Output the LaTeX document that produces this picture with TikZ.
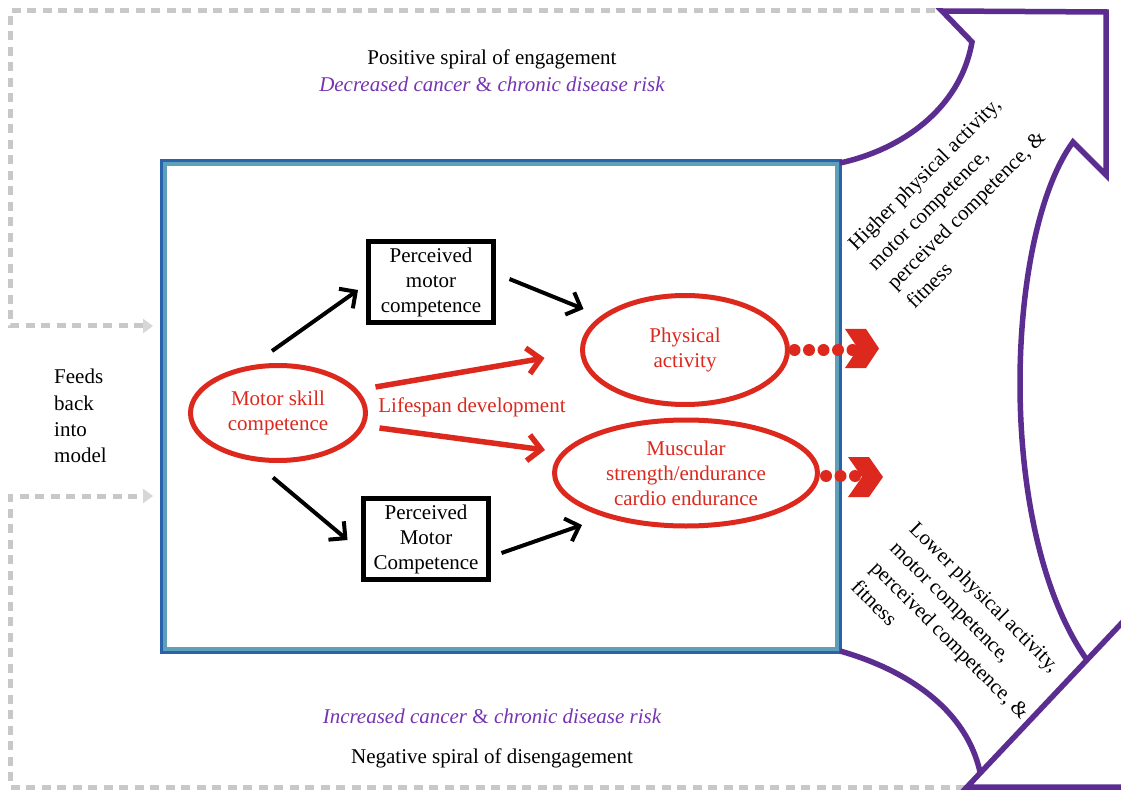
\documentclass[tikz,border=0pt]{standalone}
\usepackage{fontspec}
\setmainfont{Liberation Serif}
\usetikzlibrary{arrows.meta,shapes.geometric,calc}
\definecolor{myred}{RGB}{221,40,30}
\definecolor{mypurple}{RGB}{92,45,145}
\definecolor{txtpurple}{RGB}{118,52,178}
\definecolor{dgrey}{RGB}{200,200,200}
\definecolor{dgreytip}{RGB}{215,215,215}
\definecolor{frameblue}{RGB}{42,98,172}
\definecolor{frameteal}{RGB}{95,160,185}
\begin{document}
\begin{tikzpicture}[x=1pt,y=-1pt,
  every node/.style={font=\fontsize{21}{25}\selectfont, inner sep=0pt},
  redell/.style={ellipse, draw=myred, line width=5pt, text=myred, align=center},
  blkbox/.style={rectangle, draw=black, line width=5pt, align=center, minimum width=125pt, minimum height=81pt},
  blkarrow/.style={draw=black, line width=4pt, -{Straight Barb[length=12pt,width=24pt]}},
  redarrow/.style={draw=myred, line width=5.5pt, -{Straight Barb[length=13pt,width=26pt]}},
  greydash/.style={draw=dgrey, line width=5pt, dash pattern=on 9pt off 6.5pt, -{Triangle[length=10pt,width=14pt,color=dgreytip]}},
  purpline/.style={draw=mypurple, line width=5.5pt, line join=miter},
  reddots/.style={draw=myred, line width=12pt, line cap=round, dash pattern=on 0pt off 14.5pt},
  chev/.style={fill=myred},
  slanttext/.style={align=left, font=\fontsize{21}{27.5}\selectfont},
  ]
\useasboundingbox (0,0) rectangle (1121,791);
\clip (0,0) rectangle (1121,791);
\fill[white] (0,0) rectangle (1121,791);

% feedback dashed lines
\coordinate (gtop) at (935,11);
\coordinate (gtl) at (10,11);
\coordinate (gml) at (10,326);
\coordinate (garr1) at (153,326);
\coordinate (gbot) at (965,787);
\coordinate (gbl) at (10,787);
\coordinate (gml2) at (10,496);
\coordinate (garr2) at (153,496);
\draw[greydash] (gtop) -- (gtl) -- (gml) -- (garr1);
\draw[greydash] (gbot) -- (gbl) -- (gml2) -- (garr2);

% frame
\draw[frameteal, line width=4pt] (164.5,164.5) rectangle (836.5,648.5);
\draw[frameblue, line width=3pt] (161,161) rectangle (840,652);

% purple spiral arrow
\draw[purpline] (840,163) .. controls (900,150) and (960,110) .. (972,42)
  -- (942,11) -- (1106,12) -- (1106,175) -- (1073,142)
  .. controls (1005,235) and (995,530) .. (1087,660);
\draw[purpline] (1135,609) -- (967,787) -- (1135,787);
\draw[purpline] (840,651) .. controls (900,668) and (965,705) .. (980,772);

% top and bottom texts
\node[anchor=base] (pos) at (492,65) {Positive spiral of engagement};
\node[anchor=base, text=txtpurple, font=\fontsize{21}{25}\selectfont\itshape] (dec) at (492,92) {Decreased cancer \textup{\&} chronic disease risk};
\node[anchor=base, text=txtpurple, font=\fontsize{21}{25}\selectfont\itshape] (inc) at (492,723) {Increased cancer \textup{\&} chronic disease risk};
\node[anchor=base] (neg) at (492,763) {Negative spiral of disengagement};

\node[align=left, anchor=north west, font=\fontsize{21}{26.3}\selectfont] (fb) at (54,369) {Feeds\\back\\into\\model};

% slanted texts
\node[slanttext, rotate=45] (hi) at (956,200) {Higher physical activity,\\motor competence,\\perceived competence, \&\\fitness};
\node[slanttext, rotate=-45] (lo) at (960,630) {Lower physical activity,\\motor competence,\\perceived competence, \&\\fitness};

% nodes
\node[redell, minimum width=175pt, minimum height=95pt] (msc) at (278,413) {Motor skill\\competence};
\node[redell, minimum width=205pt, minimum height=109pt] (pa) at (685,350) {Physical\\activity};
\node[redell, minimum width=263pt, minimum height=106pt] (mus) at (686,473) {Muscular\\strength/endurance\\cardio endurance};
\node[blkbox] (pmc1) at (431,282) {Perceived\\motor\\competence};
\node[blkbox] (pmc2) at (426,539) {Perceived\\Motor\\Competence};
\node[text=myred] (life) at (472,407) {Lifespan development};

% arrows
\draw[blkarrow] ($(msc.north)+(-6,-12)$) -- ($(pmc1.west)+(-8,8)$);
\draw[blkarrow] ($(pmc1.east)+(13.5,-3)$) -- ($(pa.west)+(3.5,-41)$);
\draw[blkarrow] ($(msc.south)+(-5,14.5)$) -- ($(pmc2.west)+(-13.5,1)$);
\draw[blkarrow] ($(pmc2.east)+(10.5,14)$) -- ($(mus.west)+(30,52)$);
\draw[redarrow] ($(msc.east)+(7.5,-26)$) -- ($(pa.west)+(-35.5,8)$);
\draw[redarrow] ($(msc.east)+(11.5,15)$) -- ($(mus.west)+(-7,-23)$);

% dotted connectors and chevrons
\coordinate (c1) at (855,350);
\coordinate (c2) at (858,476);
\draw[reddots, dash phase=10pt] (pa.east) -- (c1);
\draw[reddots, dash phase=8.5pt] (mus.east |- c2) -- (c2);
\fill[chev] (845,329) -- (866,329) -- (879,348.5) -- (866,368) -- (845,368) -- (858,348.5) -- cycle;
\fill[chev] (848,457) -- (869,457) -- (883,477) -- (869,497) -- (848,497) -- (862,477) -- cycle;
\end{tikzpicture}
\end{document}
